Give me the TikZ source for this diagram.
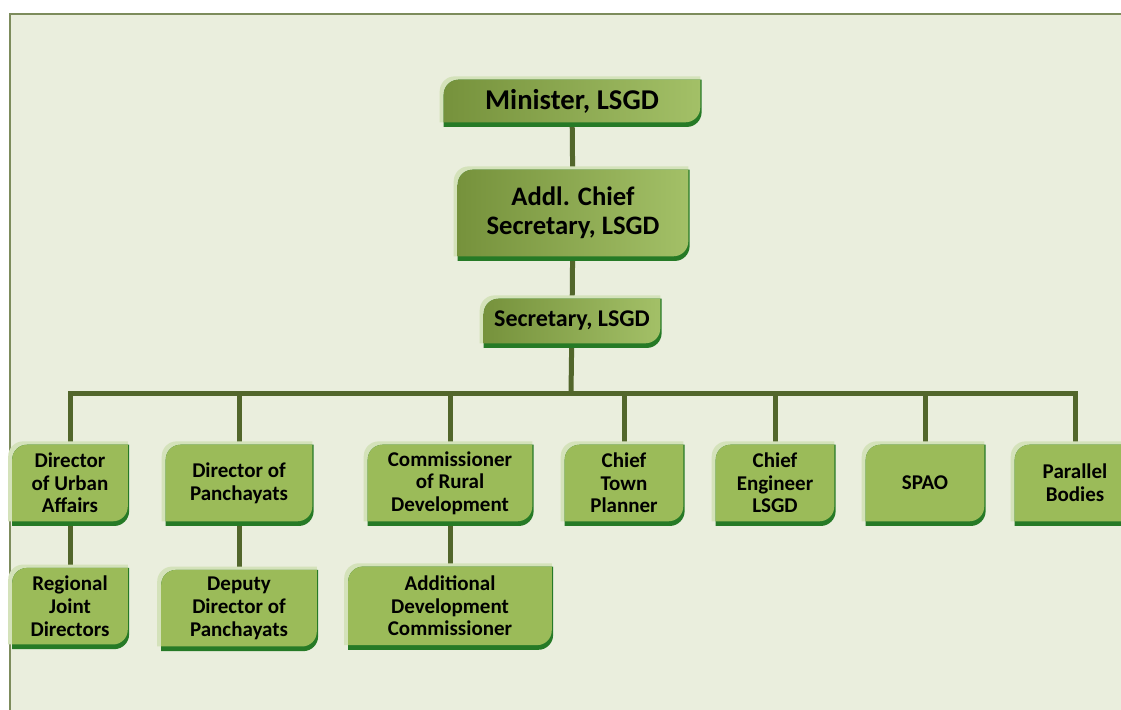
\documentclass[tikz,border=0pt]{standalone}
\usepackage{fontspec}
\setmainfont{Carlito}
\usetikzlibrary{calc, positioning}
\pgfdeclarelayer{bg}
\pgfsetlayers{bg,main}
\definecolor{panelgreen}{HTML}{EAEEDD}
\definecolor{framegreen}{HTML}{7D8C5C}
\definecolor{linkgreen}{HTML}{52662B}
\definecolor{facegreen}{HTML}{9BBB59}
\definecolor{olivedark}{HTML}{76923C}
\definecolor{olivelight}{HTML}{A3C067}
\definecolor{rimdark}{HTML}{267A26}
\definecolor{rimlight}{HTML}{D4E2BA}
\tikzset{
  box/.style={inner sep=0pt, align=center, text=black, font=\bfseries\fontsize{15.75}{17}\selectfont, minimum height=57pt},
  link/.style={draw=linkgreen, line width=3.75pt},
  headface/.style={left color=olivedark, right color=olivelight},
  lowface/.style={fill=facegreen},
}
% box outline with round top left and bottom right corners
\newcommand{\diagpath}[3]{%
  \path[#1] let \p1=#2, \p2=#3 in (\x1,\y2) -- (\x1,\y1-11pt) .. controls (\x1,\y1-5pt) and (\x1+5pt,\y1) .. (\x1+11pt,\y1) -- (\x2,\y1) -- (\x2,\y2+11pt) .. controls (\x2,\y2+5pt) and (\x2-5pt,\y2) .. (\x2-11pt,\y2) -- cycle;}
\newcommand{\orgbox}[2]{%
  \diagpath{fill=rimlight}{([shift={(-3pt,2.5pt)}]#1.north west)}{(#1.south east)}%
  \diagpath{fill=rimdark}{(#1.north west)}{([shift={(1pt,-3.5pt)}]#1.south east)}%
  \diagpath{#2}{(#1.north west)}{(#1.south east)}}

\begin{document}
\begin{tikzpicture}[x=0.75pt, y=-0.75pt]
    \useasboundingbox (0,0) rectangle (1121,710);
    \node (min) [box, minimum width=192pt, minimum height=31.5pt, font=\bfseries\fontsize{21.5}{24}\selectfont] at (572,101) {Minister, LSGD};%minister
    \node (acs) [box, minimum width=172.5pt, minimum height=64.5pt, font=\bfseries\fontsize{20}{22}\selectfont] at (573,213) {Addl. Chief\\Secretary, LSGD};%addl chief secretary
    \node (sec) [box, minimum width=132pt, minimum height=33pt, font=\bfseries\fontsize{18}{20}\selectfont] at (572,321) {Secretary, LSGD};%secretary
    % =============== second row ====================
    \node (urban) [box, minimum width=86.25pt] at (70,483) {Director\\of Urban\\Affairs};
    \node (panch) [box, minimum width=109.5pt] at (239,483) {Director of\\Panchayats};
    \node (comm) [box, minimum width=123pt] at (450,483) {Commissioner\\of Rural\\Development};
    \node (town) [box, minimum width=88.5pt] at (624,483) {Chief\\Town\\Planner};
    \node (eng) [box, minimum width=88.5pt] at (775,483) {Chief\\Engineer\\LSGD};
    \node (spao) [box, minimum width=88.5pt] at (925,483) {SPAO};
    \node (par) [box, minimum width=90pt] at (1075,483) {Parallel\\Bodies};
    % =============== third row ====================
    \node (rjd) [box, minimum width=86.25pt, below=35pt of urban] {Regional\\Joint\\Directors};
    \node (ddp) [box, minimum width=116.25pt, below=36.5pt of panch] {Deputy\\Director of\\Panchayats};
    \node (adc) [box, minimum width=152.25pt, minimum height=58.5pt, below=34pt of comm] {Additional\\Development\\Commissioner};
    \coordinate (bus) at (571,393);%bus line height
    \begin{pgfonlayer}{bg}
      \fill[white] (0,0) rectangle (1121,710);
      \fill[panelgreen] (10,14) rectangle (1121,710);
      \draw[framegreen, line width=1.5pt] (10,710) -- (10,14) -- (1121,14);
      \clip (0,0) rectangle (1121,710);
      % connectors
      \draw[link] (min) -- (acs);
      \draw[link] (acs) -- (sec);
      \draw[link] (sec) -- (bus);
      \draw[link] (urban.north) |- (bus) -| (par.north);
      \foreach \b in {panch, comm, town, eng, spao}
        \draw[link] (\b.north) -- (\b.north |- bus);
      \draw[link] (urban) -- (rjd);
      \draw[link] (panch) -- (ddp);
      \draw[link] (comm) -- (adc);
      % boxes
      \foreach \b in {min, acs, sec}
        \orgbox{\b}{headface};
      \foreach \b in {urban, panch, comm, town, eng, spao, par, rjd, ddp, adc}
        \orgbox{\b}{lowface};
    \end{pgfonlayer}
\end{tikzpicture}
\end{document}
